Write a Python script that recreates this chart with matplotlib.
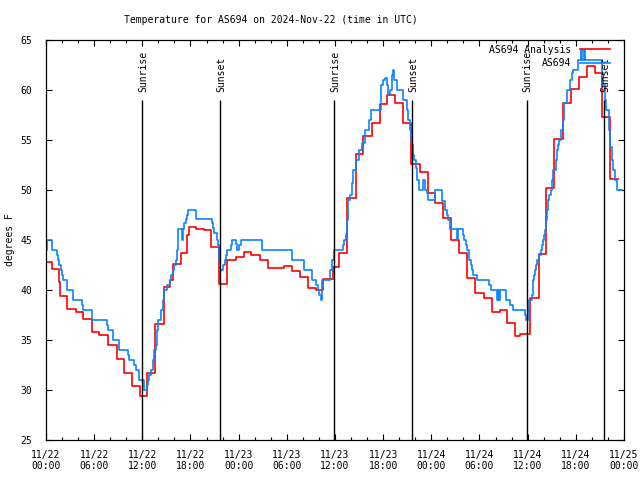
import matplotlib
matplotlib.use("Agg")
import matplotlib.pyplot as plt
from matplotlib.ticker import MultipleLocator

# hours since 2024-11-22 00:00 UTC, step start times
red_hours = [0.0, 0.7, 1.6, 1.8, 2.65, 3.7, 4.65, 5.7, 6.6, 7.75, 8.8, 9.75, 10.7,
             11.7, 12.6, 13.6, 14.7, 15.5, 15.8, 16.8, 17.6, 17.8, 18.7, 19.7, 20.6,
             21.6, 22.6, 23.7, 24.7, 25.5, 26.6, 27.6, 29.6, 30.6, 31.6, 32.6, 33.6,
             34.5, 35.7, 36.5, 37.5, 38.6, 39.5, 40.6, 41.6, 42.5, 43.5, 44.5, 45.5,
             46.6, 47.6, 48.5, 49.5, 50.4, 51.4, 52.5, 53.5, 54.5, 55.5, 56.5, 57.4,
             58.4, 59.0, 60.3, 61.4, 62.3, 63.3, 64.4, 65.4, 66.4, 67.4, 68.4, 69.3,
             70.3, 71.3]
red_temps = [42.8, 42.1, 40.8, 39.4, 38.1, 37.8, 37.1, 35.8, 35.5, 34.5, 33.1, 31.7, 30.4,
             29.4, 31.7, 36.6, 40.3, 41.0, 42.6, 43.7, 45.5, 46.3, 46.1, 46.0, 44.3,
             40.6, 43.0, 43.3, 43.8, 43.5, 43.0, 42.2, 42.4, 41.9, 41.3, 40.2, 40.0,
             41.1, 42.3, 43.7, 49.2, 53.6, 55.4, 56.7, 58.6, 59.5, 58.7, 56.7, 52.6,
             51.8, 49.7, 48.7, 47.2, 45.0, 43.7, 41.2, 39.7, 39.2, 37.8, 38.0, 36.7,
             35.4, 35.6, 39.2, 43.6, 50.2, 55.1, 58.7, 60.1, 61.3, 62.4, 61.7, 57.3,
             51.1, 51.1]

blue_hours = [0.0, 0.1, 0.71, 1.33, 1.45, 1.66, 1.83, 2.03, 2.16, 2.66, 3.4, 4.44, 4.57,
              5.69, 7.55, 7.68, 8.38, 9.09, 10.25, 10.38, 11.0, 11.17, 11.58, 12.25,
              12.54, 12.66, 12.83, 13.08, 13.29, 13.45, 13.66, 13.79, 13.99, 14.3, 14.53,
              14.7, 15.1, 15.44, 15.57, 15.77, 15.98, 16.15, 16.27, 16.4, 16.48, 16.98,
              17.1, 17.23, 17.39, 17.52, 17.73, 18.68, 20.71, 20.84, 20.96, 21.26, 21.46,
              21.58, 21.67, 22.0, 22.29, 22.42, 22.58, 23.04, 23.2, 23.66, 23.82, 24.07,
              24.28, 26.94, 30.67, 32.17, 33.16, 33.58, 33.83, 34.04, 34.21, 34.41, 35.37,
              35.58, 35.9, 36.95, 37.11, 37.32, 37.52, 37.65, 37.86, 38.07, 38.27, 38.6,
              39.02, 39.31, 39.73, 40.27, 40.47, 41.72, 41.93, 42.22, 42.43, 42.63, 42.84,
              43.05, 43.25, 43.38, 43.67, 44.42, 44.92, 45.12, 45.33, 45.45, 45.62, 45.74,
              45.87, 46.08, 46.24, 46.49, 46.91, 47.2, 47.41, 47.61, 48.48, 49.27, 49.69,
              49.9, 50.1, 50.31, 51.14, 51.35, 51.97, 52.1, 52.3, 52.47, 52.68, 52.89,
              53.01, 53.22, 53.72, 55.2, 55.38, 56.12, 56.25, 56.41, 56.54, 57.29, 57.78,
              58.12, 59.65, 59.78, 59.98, 60.2, 60.48, 60.61, 60.69, 60.77, 60.9, 61.02,
              61.19, 61.44, 61.6, 61.73, 61.85, 62.02, 62.14, 62.27, 62.44, 62.56, 62.68,
              62.85, 62.98, 63.18, 63.47, 63.6, 63.72, 63.89, 64.13, 64.34, 64.51, 64.84,
              65.26, 65.47, 65.67, 66.21, 66.63, 66.79, 67.0, 67.12, 69.2, 69.41, 69.61,
              69.82, 70.07, 70.24, 70.49, 70.65, 70.86, 71.15, 71.7]
blue_temps = [44.0, 45.0, 44.0, 43.5, 43.0, 42.5, 42.0, 41.5, 41.0, 40.0, 39.0, 38.5, 38.0,
              37.0, 36.5, 36.0, 35.0, 34.0, 33.5, 33.0, 32.5, 32.0, 31.0, 30.0,
              30.5, 31.0, 31.5, 32.0, 33.0, 34.0, 34.5, 36.0, 37.0, 38.0, 39.0,
              40.0, 40.5, 41.0, 41.5, 42.0, 42.5, 43.0, 44.0, 44.5, 46.1, 45.0,
              46.1, 46.7, 47.1, 47.5, 48.0, 47.1, 46.7, 46.2, 45.7, 45.0, 44.5,
              43.0, 42.0, 42.5, 43.0, 43.5, 44.0, 44.5, 45.0, 44.6, 44.0, 44.5,
              45.0, 44.0, 43.0, 42.0, 41.0, 40.5, 40.0, 39.5, 39.0, 41.0, 42.0,
              43.0, 44.0, 44.5, 45.0, 45.6, 47.0, 49.0, 49.5, 50.7, 52.0, 53.0,
              54.0, 54.7, 56.0, 57.0, 58.0, 60.5, 61.0, 61.2, 60.5, 59.6, 60.0,
              61.5, 62.0, 61.0, 60.0, 59.0, 58.0, 57.0, 56.0, 55.0, 54.5, 53.5,
              53.0, 52.2, 51.0, 50.0, 51.0, 50.0, 49.7, 49.0, 50.0, 48.9, 48.0,
              47.5, 47.0, 46.1, 45.1, 46.1, 45.5, 45.0, 44.5, 44.0, 43.0, 42.5,
              42.0, 41.5, 41.0, 40.5, 40.0, 39.0, 40.0, 39.0, 40.0, 39.0, 38.5,
              38.0, 37.5, 37.0, 38.0, 39.0, 39.5, 40.3, 41.0, 41.5, 42.0, 42.5,
              43.0, 43.5, 44.0, 44.5, 45.0, 45.5, 46.0, 47.0, 48.0, 49.0, 49.5,
              50.0, 51.0, 52.0, 53.0, 54.0, 54.5, 55.0, 56.0, 57.0, 58.7, 60.0,
              61.0, 61.7, 62.0, 63.0, 64.0, 63.0, 64.0, 63.0, 61.7, 60.5, 59.0,
              58.0, 56.0, 54.3, 53.0, 52.0, 51.0, 50.0, 50.0]

sun_hours = [11.98, 21.71, 35.92, 45.62, 59.86, 69.53]
sun_labels = ["Sunrise", "Sunset", "Sunrise", "Sunset", "Sunrise", "Sunset"]

tick_hours = list(range(0, 73, 6))
tick_labels = ["11/22\n00:00", "11/22\n06:00", "11/22\n12:00", "11/22\n18:00",
               "11/23\n00:00", "11/23\n06:00", "11/23\n12:00", "11/23\n18:00",
               "11/24\n00:00", "11/24\n06:00", "11/24\n12:00", "11/24\n18:00",
               "11/25\n00:00"]

plt.rcParams["font.family"] = "DejaVu Sans Mono"
plt.rcParams["font.size"] = 6.5

fig = plt.figure(figsize=(6.4, 4.8), dpi=100)
ax = fig.add_axes([46 / 640, 40 / 480, 578 / 640, 400 / 480])

ax.plot(red_hours, red_temps, drawstyle="steps-post", color="#ff0000", lw=1.2,
        label="AS694 Analysis")
ax.plot(blue_hours, blue_temps, drawstyle="steps-post", color="#0a84ff", lw=1.2,
        label="AS694")

for h, lab in zip(sun_hours, sun_labels):
    ax.vlines(h, 25, 59, color="black", lw=1)
    ax.text(h + 0.1, 59.8, lab, rotation=90, ha="center", va="bottom", fontsize=7)

ax.set_xlim(0, 72)
ax.set_ylim(25, 65)
ax.set_xticks(tick_hours)
ax.set_xticklabels(tick_labels)
ax.xaxis.set_minor_locator(MultipleLocator(2))
ax.yaxis.set_major_locator(MultipleLocator(5))
ax.tick_params(which="both", direction="in", top=True, right=True, labelsize=7)
ax.tick_params(which="major", length=4, width=0.8)
ax.tick_params(which="minor", length=2.2, width=0.8)
ax.tick_params(axis="y", pad=10)
ax.tick_params(axis="x", pad=7)
for s in ax.spines.values():
    s.set_linewidth(0.9)

ax.set_ylabel("degrees F", fontsize=7)
ax.yaxis.set_label_coords(-0.054, 0.5)
fig.text(271 / 640, 1 - 20 / 480, "Temperature for AS694 on 2024-Nov-22 (time in UTC)",
         ha="center", va="center", fontsize=7)

ax.legend(loc="upper right", bbox_to_anchor=(0.976, 0.988), frameon=False,
          markerfirst=False, borderpad=0, borderaxespad=0, handlelength=3.1,
          handletextpad=0.9, labelspacing=0.35, fontsize=7)

fig.savefig("out.png", dpi=100)
